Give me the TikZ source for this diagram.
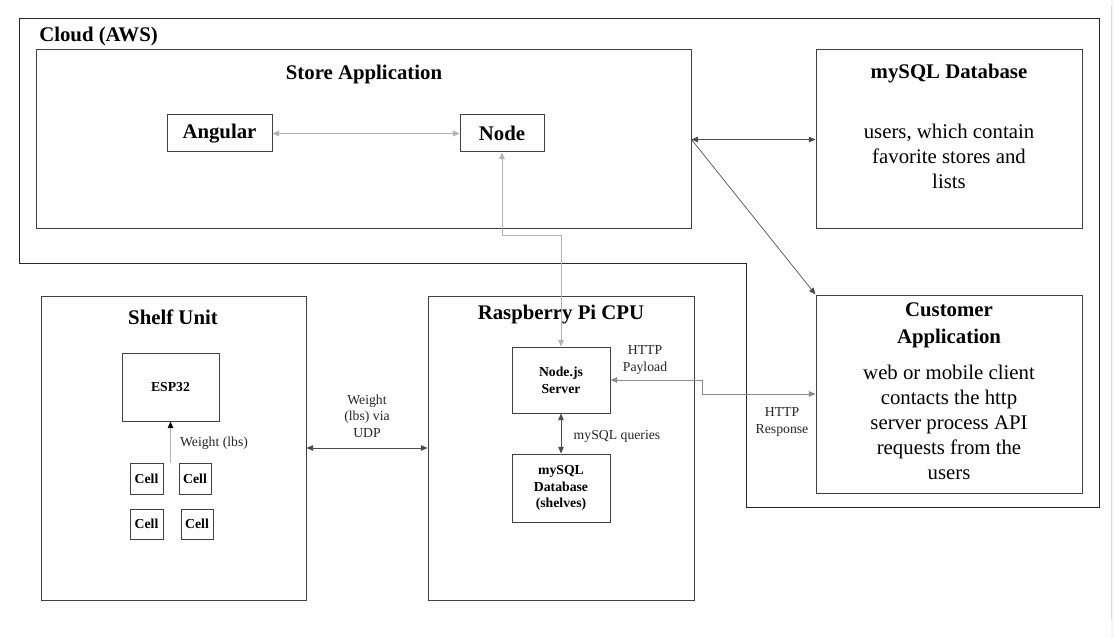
\documentclass[tikz,border=0pt]{standalone}
\usepackage{fontspec}
\setmainfont{Liberation Serif}
\usetikzlibrary{arrows.meta,fit}
\begin{document}
\begin{tikzpicture}[x=0.75pt,y=-0.75pt,
  box/.style={draw=black!75,line width=0.75pt,inner sep=0pt,fill=none},
  cloudline/.style={draw=black!85,line width=0.75pt},
  big/.style={font=\fontsize{15.6}{20.25}\selectfont\bfseries,align=center,inner sep=0pt},
  body/.style={font=\fontsize{15.6}{18.75}\selectfont,align=center,inner sep=0pt},
  smallb/.style={font=\fontsize{10.3}{12.5}\selectfont\bfseries,align=center,inner sep=0pt},
  small/.style={font=\fontsize{10.3}{12.5}\selectfont,align=center,inner sep=0pt,text=black!85},
  tip/.tip={Triangle[length=5pt,width=4.2pt]},
  darr/.style={draw=black!70,line width=0.5pt,tip-tip},
  garr/.style={draw=black!45,line width=0.6pt,tip-tip},
  larr/.style={draw=black!30,line width=0.6pt,tip-tip},
]
\useasboundingbox (0,0) rectangle (1114,638);
\fill[white] (0,0) rectangle (1114,638);
\fill[black!3] (1111,0) rectangle (1114,638);
\draw[black!15,line width=0.75pt] (1111,6) -- (1111,620);

% cloud outline
\draw[cloudline] (19,19) -- (1099,19) -- (1099,507) -- (746,507) -- (746,263) -- (19,263) -- cycle;
\node[big,anchor=west] (cloudlbl) at (39,37) {Cloud (AWS)};

% store application
\node[box,fit={(36,50) (691,229)}] (store) {};
\node[big] (storelbl) at (364,74) {Store Application};
\node[box,fit={(167,115) (272,152)}] (ang) {};
\node[big] at (ang) {Angular};
\node[box,fit={(460,115) (544,152)}] (nd) {};
\node[big] at (nd) {Node};

% mySQL database
\node[box,fit={(816,50) (1082,229)}] (mysql) {};
\node[big] (mysqllbl) at (949,74) {mySQL Database};
\node[body] (mysqlbody) at (949,156) {users, which contain\\favorite stores and\\lists};

% customer application
\node[box,fit={(816,295) (1082,493)}] (cust) {};
\node[big] (custlbl) at (949,325) {Customer\\Application};
\node[body] (custbody) at (949,422) {web or mobile client\\contacts the http\\server process API\\requests from the\\users};

% shelf unit
\node[box,fit={(41,296) (306,600)}] (shelf) {};
\node[big] (shelflbl) at (173,317) {Shelf Unit};
\node[box,fit={(122,353) (219,421)}] (esp) {};
\node[smallb] at (esp) {ESP32};
\node[box,fit={(130,463) (163,494)}] (c1) {};
\node[smallb] at (c1) {Cell};
\node[box,fit={(179,463) (211,494)}] (c2) {};
\node[smallb] at (c2) {Cell};
\node[box,fit={(130,509) (163,539)}] (c3) {};
\node[smallb] at (c3) {Cell};
\node[box,fit={(181,509) (213,539)}] (c4) {};
\node[smallb] at (c4) {Cell};

% raspberry pi
\node[box,fit={(428,296) (694,600)}] (rpi) {};
\node[big] (rpilbl) at (561,315) {Raspberry Pi CPU};
\node[box,fit={(512,347) (610,413)}] (njs) {};
\node[smallb] at (njs) {Node.js\\Server};
\node[box,fit={(512,454) (610,522)}] (sqls) {};
\node[smallb] at (sqls) {mySQL\\Database\\(shelves)};

% connectors
\draw[larr] (ang.east) -- (nd.west);
\coordinate (b1) at (502,235);
\coordinate (b2) at (561,235);
\draw[larr] (nd.south) -- (b1) -- (b2) -- (njs.north);
\draw[darr] (store.east) -- (mysql.west);
\draw[darr,{-tip}] (store.east) -- (cust.north west);
\coordinate (h1) at (702,380);
\draw[garr] (njs.east) -- (h1) |- (cust.west);
\draw[darr] (njs.south) -- (sqls.north);
\draw[darr] (shelf.east) -- (rpi.west);
\coordinate (w0) at (170.5,463);
\draw[larr,{-tip[black]}] (w0) -- (esp.south);

% labels
\node[small] (lpay) at (645,360) {HTTP\\Payload};
\node[small] (lresp) at (782,422) {HTTP\\Response};
\node[small] (ludp) at (367,416) {Weight\\(lbs) via\\UDP};
\node[small] (lq) at (617,436) {mySQL queries};
\node[small] (lw) at (214,443) {Weight (lbs)};
\end{tikzpicture}
\end{document}
